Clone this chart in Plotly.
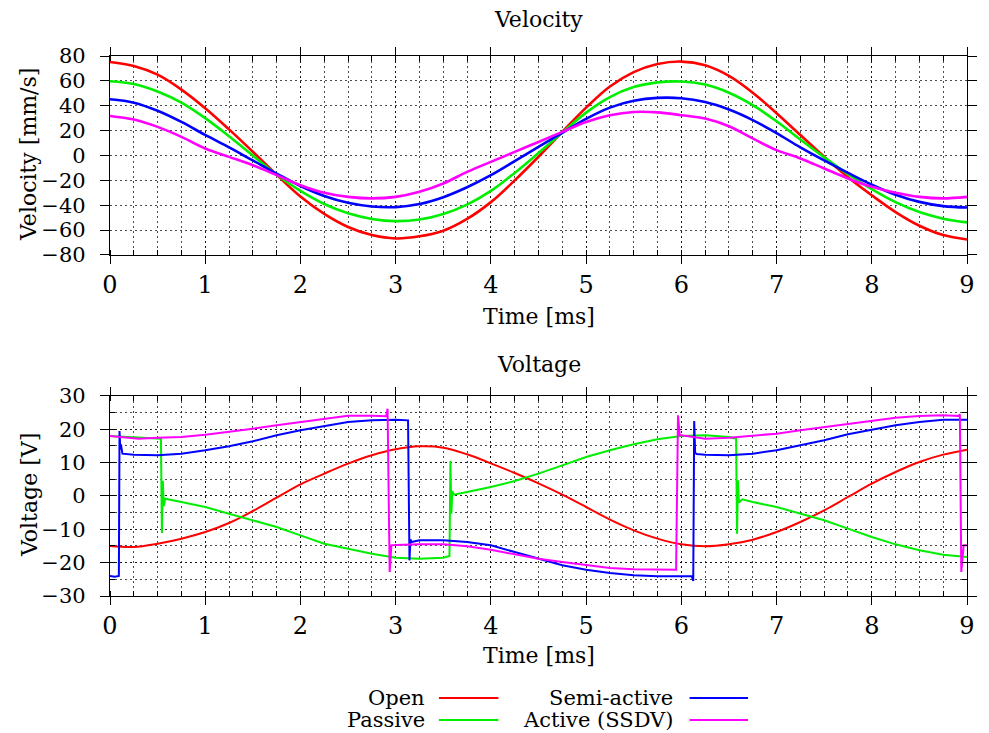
import plotly.graph_objects as go

# ---------------- Velocity (top) data ----------------
t_vel = [0, 0.25, 0.5, 0.75, 1, 1.25, 1.5, 1.75, 2, 2.25, 2.5, 2.75, 3, 3.25, 3.5,
         3.75, 4, 4.25, 4.5, 4.75, 5, 5.25, 5.5, 5.75, 6, 6.25, 6.5, 6.75, 7, 7.25,
         7.5, 7.75, 8, 8.25, 8.5, 8.75, 9]
vel_open = [75.2, 72, 65, 53, 38, 21, 3, -15.5, -33, -47, -57.5, -64, -66.7,
            -65, -60.5, -51, -37.5, -20, -1, 19, 38.5, 55.5, 67, 73.5, 75.5, 72.5,
            64, 50.5, 34, 16.5, -1, -17.5, -32, -45.5, -56.5, -64, -67.5]
vel_passive = [59.7, 57.5, 51.5, 42.5, 30, 15.5, 0, -15.5, -28.5, -39, -46.5, -51,
               -52.8, -51.5, -47, -39.5, -28.5, -14, 2, 18.5, 34.5, 47, 55, 58.8,
               59.5, 57, 50.5, 40.5, 27.5, 12.8, -1.5, -15, -27, -37.5, -45.5,
               -50.8, -53.8]
vel_semi = [45.2, 42.5, 36, 27, 16.5, 6.5, -4, -14.5, -24.5, -32.5, -38, -41,
            -41.5, -39, -33.5, -25.5, -15.8, -4.5, 7, 18.2, 29.5, 38.5, 44, 46.3,
            46, 43, 37, 28.5, 18, 6.5, -4, -14, -23.5, -31.5, -37.3, -40.7, -41.8]
vel_active = [31.8, 28.9, 23, 15, 5.6, -1.1, -7.8, -15.8, -23.9, -30, -33.3, -34.5,
              -33.3, -29.2, -22.5, -13.2, -5.1, 2.9, 10.9, 19, 27, 32.4, 35, 34.7,
              32.4, 29.7, 23.5, 13.7, 4.3, -2.4, -10.4, -18.5, -25.2, -30, -33.3,
              -34.5, -33.3]

# ---------------- Voltage (bottom) data ----------------
t_v_open = t_vel
volt_open = [-15, -15.3, -14.3, -12.8, -10.8, -8.1, -4.5, -0.5, 3.5, 6.7, 9.7, 12.2, 14,
             14.9, 14.5, 12.5, 9.8, 6.9, 3.8, 0.4, -3.3, -7.1, -10.3, -12.8, -14.5,
             -15.1, -14.5, -13.1, -10.8, -7.8, -4.3, -0.3, 3.7, 7.2, 10.2, 12.4, 13.9]

t_v_passive = [0, 0.25, 0.5, 0.535, 0.545, 0.555, 0.565, 0.58, 0.75, 1, 1.25, 1.5,
               1.75, 2, 2.25, 2.5, 2.75, 3, 3.25, 3.5, 3.565, 3.575, 3.585, 3.595,
               3.61, 3.75, 4, 4.25, 4.5, 4.75, 5, 5.25, 5.5, 5.75, 6, 6.25, 6.5, 6.575,
               6.585, 6.595, 6.605, 6.64, 6.75, 7, 7.25, 7.5, 7.75, 8, 8.25, 8.5, 8.75, 9]
volt_passive = [18, 17.6, 17.3, 17.2, -11.1, 4.5, -3, -0.8, -1.8, -3.3, -5.3, -7.3,
                -9.3, -11.8, -14.3, -15.8, -17.3, -18.5, -18.8, -18.5, -18, 10.5, -5.3,
                1.5, 0.4, 1.2, 2.7, 4.5, 6.7, 9.2, 11.7, 13.7, 15.5, 17, 18, 18.2, 17.7,
                17.2, -11.3, 4.7, -2, -1, -1.8, -3.3, -5.3, -7.3, -9.8, -12.3, -14.5,
                -16.3, -17.6, -18.3]

t_v_semi = [0, 0.05, 0.093, 0.1, 0.108, 0.115, 0.13, 0.25, 0.5, 0.75, 1, 1.25, 1.5,
            1.75, 2, 2.25, 2.5, 2.75, 3, 3.13, 3.145, 3.155, 3.165, 3.25, 3.5, 3.75, 4,
            4.25, 4.5, 4.75, 5, 5.25, 5.5, 5.75, 6, 6.11, 6.125, 6.135, 6.145, 6.16,
            6.25, 6.5, 6.75, 7, 7.25, 7.5, 7.75, 8, 8.25, 8.5, 8.75, 9]
volt_semi = [-24, -24.2, -24, 19.5, 14, 15.5, 12.7, 12.4, 12.2, 12.7, 13.7, 14.9, 16.4,
             18.2, 19.7, 20.9, 22.2, 22.7, 22.9, 22.7, -19.3, -13, -13.8, -13.3, -13.3,
             -13.8, -14.8, -16.8, -18.8, -20.8, -22.1, -23.1, -23.8, -24.1, -24.1, -24,
             -25.5, 22.5, 13, 12.6, 12.4, 12.2, 12.7, 13.7, 15.2, 16.7, 18.5, 19.9, 21.2,
             22.2, 22.9, 22.9]

t_v_active = [0, 0.25, 0.3, 0.5, 0.75, 1, 1.25, 1.5, 1.75, 2, 2.25, 2.5, 2.75, 2.9,
              2.915, 2.937, 2.955, 3, 3.25, 3.5, 3.75, 4, 4.25, 4.5, 4.75, 5, 5.25, 5.5,
              5.75, 5.945, 5.965, 5.983, 6, 6.25, 6.5, 6.75, 7, 7.25, 7.5, 7.75, 8, 8.25,
              8.5, 8.75, 8.91, 8.925, 8.94, 8.965, 9]
volt_active = [18, 17.4, 17.2, 17.5, 17.7, 18.4, 19.2, 20.2, 21.2, 22.2, 23.2, 24.1, 24.1,
               23.9, 26.2, -22.8, -14.8, -14.7, -14.5, -14.5, -15.1, -16.1, -17.5, -18.8,
               -19.8, -20.8, -21.6, -22, -22, -22.1, 24.2, 18.2, 18.2, 17.2, 17.5, 18,
               18.7, 19.7, 20.7, 21.7, 22.7, 23.5, 24, 24.2, 24, 24.5, -22.8, -14.8, -14.8]

series_names = ["Open", "Passive", "Semi-active", "Active (SSDV)"]
series_colors = ["#ff0000", "#00ee00", "#0000ff", "#ff00ff"]

x_ticks = list(range(0, 10))
vel_ticks = list(range(-80, 81, 20))
volt_ticks = list(range(-30, 31, 10))

FONT = "DejaVu Serif"

fig = go.Figure()

vel_data = [vel_open, vel_passive, vel_semi, vel_active]
for name, col, ys in zip(series_names, series_colors, vel_data):
    fig.add_trace(go.Scatter(x=t_vel, y=ys, mode="lines", name=name,
                             line=dict(color=col, width=2.6, shape="spline", smoothing=1.0),
                             xaxis="x", yaxis="y", showlegend=False))

volt_t = [t_v_open, t_v_passive, t_v_semi, t_v_active]
volt_data = [volt_open, volt_passive, volt_semi, volt_active]
volt_shape = ["spline", "linear", "linear", "linear"]
for name, col, xs, ys, shp in zip(series_names, series_colors, volt_t, volt_data, volt_shape):
    fig.add_trace(go.Scatter(x=xs, y=ys, mode="lines", name=name,
                             line=dict(color=col, width=2, shape=shp),
                             xaxis="x2", yaxis="y2", showlegend=False))

grid_col = "rgba(0,0,0,0.7)"
grid_dash = "2px,3px"

def xaxis_cfg(anchor):
    return dict(
        domain=[0, 1], anchor=anchor, range=[0, 9], tickvals=x_ticks,
        showline=True, linecolor="black", linewidth=1.3, mirror="ticks",
        ticks="outside", ticklen=8, tickwidth=1.3, tickcolor="black",
        showgrid=True, gridcolor=grid_col, gridwidth=1, griddash=grid_dash,
        zeroline=False, ticklabelstandoff=0,
        tickfont=dict(family=FONT, size=24, color="black"),
        minor=dict(dtick=0.25, tick0=0, ticks="inside", ticklen=5, tickwidth=1,
                   tickcolor="black", showgrid=True, gridcolor=grid_col,
                   gridwidth=1, griddash=grid_dash),
    )

fig.update_layout(
    width=989, height=733,
    margin=dict(l=110, r=14, t=56, b=137),
    paper_bgcolor="white", plot_bgcolor="white",
    font=dict(family=FONT, color="black"),
    xaxis=xaxis_cfg("y"),
    xaxis2=xaxis_cfg("y2"),
    yaxis=dict(
        domain=[0.6315, 1], anchor="x", range=[-80, 80], tickvals=vel_ticks,
        showline=True, linecolor="black", linewidth=1.3, mirror="ticks",
        ticks="outside", ticklen=9, tickwidth=1.3, tickcolor="black",
        showgrid=True, gridcolor=grid_col, gridwidth=1, griddash=grid_dash,
        zeroline=False, ticklabelstandoff=10,
        tickfont=dict(family=FONT, size=21, color="black"),
    ),
    yaxis2=dict(
        domain=[0, 0.3704], anchor="x2", range=[-30, 30], tickvals=volt_ticks,
        showline=True, linecolor="black", linewidth=1.3, mirror="ticks",
        ticks="outside", ticklen=9, tickwidth=1.3, tickcolor="black",
        showgrid=True, gridcolor=grid_col, gridwidth=1, griddash=grid_dash,
        zeroline=False, ticklabelstandoff=10,
        tickfont=dict(family=FONT, size=21, color="black"),
        minor=dict(dtick=5, tick0=0, ticks="inside", ticklen=5, tickwidth=1,
                   tickcolor="black", showgrid=True, gridcolor=grid_col,
                   gridwidth=1, griddash=grid_dash),
    ),
)

ann_font = dict(family=FONT, size=22, color="black")
annotations = [
    dict(text="Velocity", x=0.5, y=1.0667, xref="paper", yref="paper",
         xanchor="center", yanchor="middle", showarrow=False, font=ann_font),
    dict(text="Time [ms]", x=0.5, y=0.5185, xref="paper", yref="paper",
         xanchor="center", yanchor="middle", showarrow=False, font=ann_font),
    dict(text="Voltage", x=0.5, y=0.4296, xref="paper", yref="paper",
         xanchor="center", yanchor="middle", showarrow=False, font=ann_font),
    dict(text="Time [ms]", x=0.5, y=-0.111, xref="paper", yref="paper",
         xanchor="center", yanchor="middle", showarrow=False, font=ann_font),
    dict(text="Velocity [mm/s]", x=-0.0945, y=0.8167, xref="paper", yref="paper",
         xanchor="center", yanchor="middle", showarrow=False, textangle=-90, font=ann_font),
    dict(text="Voltage [V]", x=-0.0945, y=0.187, xref="paper", yref="paper",
         xanchor="center", yanchor="middle", showarrow=False, textangle=-90, font=ann_font),
]

# Legend (gnuplot-style: text right-aligned, sample to the right)
leg_font = dict(family=FONT, size=21, color="black")
leg_text_x = [0.37, 0.37, 0.659, 0.659]
leg_line_x = [(0.3838, 0.4532), (0.3838, 0.4532), (0.6763, 0.7445), (0.6763, 0.7445)]
leg_y = [-0.189, -0.2296, -0.189, -0.2296]
shapes = []
for name, col, tx, (lx0, lx1), ly in zip(series_names, series_colors, leg_text_x, leg_line_x, leg_y):
    annotations.append(dict(text=name, x=tx, y=ly, xref="paper", yref="paper",
                            xanchor="right", yanchor="middle", showarrow=False,
                            font=leg_font))
    shapes.append(dict(type="line", xref="paper", yref="paper", x0=lx0, x1=lx1,
                       y0=ly, y1=ly, line=dict(color=col, width=2)))

fig.update_layout(annotations=annotations, shapes=shapes)

fig.write_html("out.html")
